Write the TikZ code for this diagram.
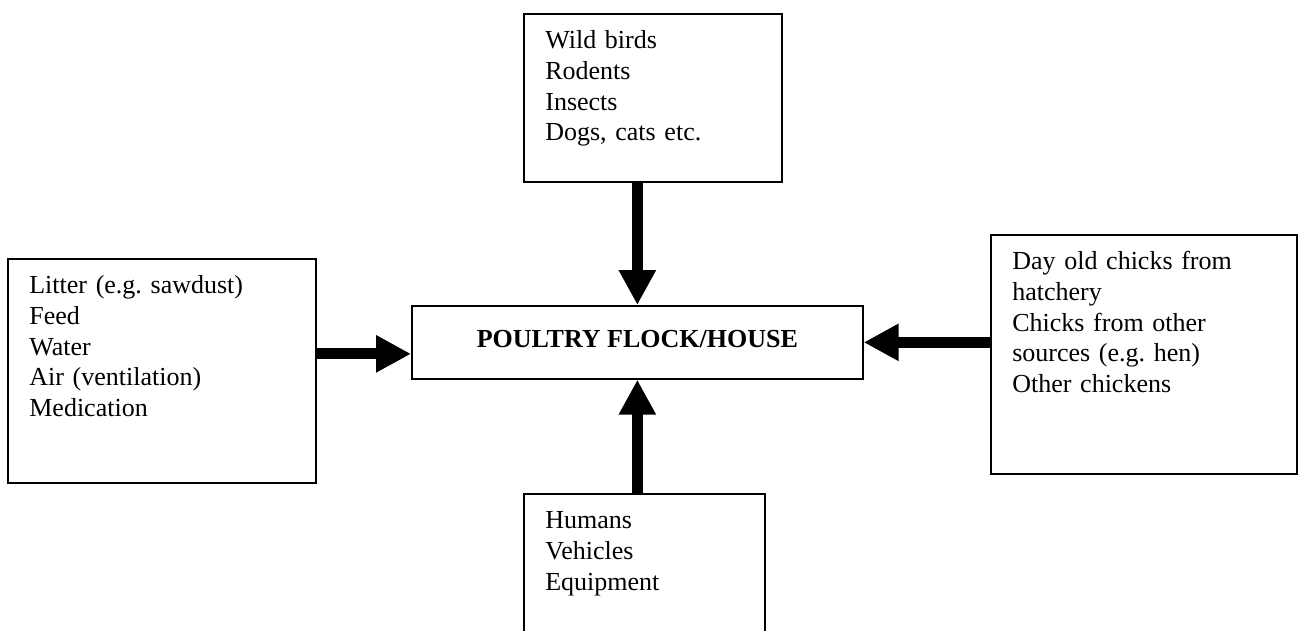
\documentclass[tikz,border=0pt]{standalone}
\usepackage{fontspec}
\setmainfont{Liberation Serif}
\frenchspacing
\usetikzlibrary{arrows.meta,calc}
\begin{document}
\begin{tikzpicture}[x=1pt,y=-1pt,
  srcbox/.style={draw, line width=1.7pt, anchor=north west, inner xsep=21.5pt,
    inner ysep=0pt, align=left, font=\fontsize{26}{30.6}\selectfont\frenchspacing, text height=35pt},
  mainbox/.style={draw, line width=1.7pt, anchor=north west, inner xsep=0pt,
    inner ysep=0pt, font=\fontsize{26}{30.6}\selectfont\bfseries},
  flow/.style={line width=11pt, line cap=butt, -{Triangle[width=35pt,length=35pt]}}]
\useasboundingbox (0,0) rectangle (1298,630);
\clip (0,0) rectangle (1298,630);
% centre
\node[mainbox, minimum width=451pt, text height=42pt, text depth=31pt] (ctr) at (411,305) {POULTRY FLOCK/HOUSE};
% sources
\node[srcbox, text width=215pt, text depth=133pt] (top) at (523,13)
  {Wild birds\\Rodents\\Insects\\Dogs, cats etc.};
\node[srcbox, text width=265pt, text depth=189pt] (lft) at (7,258)
  {Litter (e.g. sawdust)\\Feed\\Water\\Air (ventilation)\\Medication};
\node[srcbox, text width=263pt, text depth=204pt] (rgt) at (990,234)
  {Day old chicks from\\hatchery\\Chicks from other\\sources (e.g. hen)\\Other chickens};
\node[srcbox, text width=198pt, text depth=115pt] (bot) at (523,493)
  {Humans\\Vehicles\\Equipment};
% arrows
\coordinate (la) at ($(ctr.west)+(0,11.5)$);
\draw[flow] (top.south -| ctr.north) -- (ctr.north);
\draw[flow] (lft.east |- la) -- (la);
\draw[flow] (rgt.west |- ctr.east) -- (ctr.east);
\draw[flow] (bot.north -| ctr.south) -- (ctr.south);
\end{tikzpicture}
\end{document}
